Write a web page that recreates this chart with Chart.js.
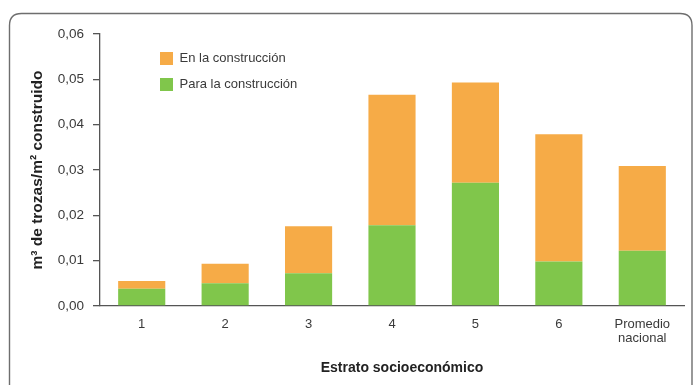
<!DOCTYPE html>
<html lang="es">
<head>
<meta charset="utf-8">
<title>Consumo de madera por estrato socioeconómico</title>
<script src="https://cdn.jsdelivr.net/npm/chart.js@4/dist/chart.umd.min.js"></script>
<style>
  html, body { margin: 0; padding: 0; background: #ffffff; }
  #wrap { position: relative; width: 693px; height: 385px; }
</style>
</head>
<body>
<div id="wrap"><canvas id="chart" width="693" height="385"></canvas></div>
<script>
// Categories (socioeconomic strata) and the two stacked components, m³ of logs per m² built
const categories = ['1', '2', '3', '4', '5', '6', ['Promedio', 'nacional']];
const paraLaConstruccion = [0.0038, 0.0050, 0.0072, 0.0178, 0.0272, 0.0098, 0.0122];
const enLaConstruccion   = [0.0017, 0.0043, 0.0104, 0.0288, 0.0221, 0.0281, 0.0187];
const yTicks = [0, 0.01, 0.02, 0.03, 0.04, 0.05, 0.06];

const FONT = "'Liberation Sans', Arial, Helvetica, sans-serif";
const TEXT = '#3a3a3a';
const AXIS = '#555555';

// Rounded panel outline and the x-axis caption
const panelPlugin = {
  id: 'panel',
  beforeDraw(chart) {
    const ctx = chart.ctx;
    ctx.save();
    ctx.fillStyle = '#ffffff';
    ctx.fillRect(0, 0, chart.width, chart.height);
    ctx.strokeStyle = '#6e6e6e';
    ctx.lineWidth = 1.4;
    const l = 9.5, t = 13.5, r = 692, b = 398, rad = 12;
    ctx.beginPath();
    ctx.moveTo(l, b);
    ctx.lineTo(l, t + rad);
    ctx.quadraticCurveTo(l, t, l + rad, t);
    ctx.lineTo(r - rad, t);
    ctx.quadraticCurveTo(r, t, r, t + rad);
    ctx.lineTo(r, b);
    ctx.stroke();
    ctx.restore();

    // legend placed inside the plot, upper left
    const lg = chart.legend;
    if (lg) {
      const w = lg.width, h = lg.height;
      lg.left = 147; lg.top = 39;
      lg.right = lg.left + w; lg.bottom = lg.top + h;
    }
  },
  afterDraw(chart) {
    const ctx = chart.ctx;
    const xs = chart.scales.x;
    ctx.save();
    ctx.fillStyle = '#222222';
    ctx.font = "bold 14px " + FONT;
    ctx.textAlign = 'center';
    ctx.textBaseline = 'middle';
    ctx.fillText('Estrato socioeconómico', (xs.left + xs.right) / 2 + 10, 368);
    ctx.restore();
  }
};

new Chart(document.getElementById('chart'), {
  type: 'bar',
  data: {
    labels: categories,
    datasets: [
      {
        label: 'Para la construcción',
        data: paraLaConstruccion,
        backgroundColor: '#80c64b',
        borderWidth: 0
      },
      {
        label: 'En la construcción',
        data: enLaConstruccion,
        backgroundColor: '#f6ab47',
        borderWidth: 0
      }
    ]
  },
  options: {
    responsive: false,
    animation: false,
    devicePixelRatio: 1,
    layout: { padding: { left: 0, right: 9, top: 34, bottom: 0 } },
    datasets: { bar: { categoryPercentage: 1.0, barPercentage: 0.565 } },
    plugins: {
      tooltip: { enabled: false },
      title: { display: false },
      legend: {
        position: 'chartArea',
        align: 'start',
        reverse: true,
        labels: {
          boxWidth: 13,
          boxHeight: 13,
          padding: 13,
          color: TEXT,
          font: { family: FONT, size: 13 }
        }
      }
    },
    scales: {
      x: {
        stacked: true,
        grid: { display: false, drawTicks: false },
        border: { display: true, color: AXIS, width: 1.3 },
        ticks: {
          color: TEXT,
          padding: 11,
          maxRotation: 0,
          autoSkip: false,
          font: { family: FONT, size: 13, lineHeight: 1.1 }
        },
        afterFit(scale) { scale.height = 79; }
      },
      y: {
        stacked: true,
        min: 0,
        max: 0.06,
        afterBuildTicks(scale) { scale.ticks = yTicks.map(v => ({ value: v })); },
        grid: { drawOnChartArea: false, drawTicks: true, tickLength: 7, color: AXIS, lineWidth: 1.3 },
        border: { display: true, color: AXIS, width: 1.3 },
        ticks: {
          color: TEXT,
          padding: 9,
          font: { family: FONT, size: 13.5 },
          callback: (v) => Number(v).toFixed(2).replace('.', ',')
        },
        title: {
          display: true,
          text: 'm³ de trozas/m² construido',
          color: '#222222',
          font: { family: FONT, size: 15.5, weight: 'bold' },
          padding: { top: 28, bottom: 0 }
        },
        afterFit(scale) { scale.width = 100; }
      }
    }
  },
  plugins: [panelPlugin]
});
</script>
</body>
</html>
